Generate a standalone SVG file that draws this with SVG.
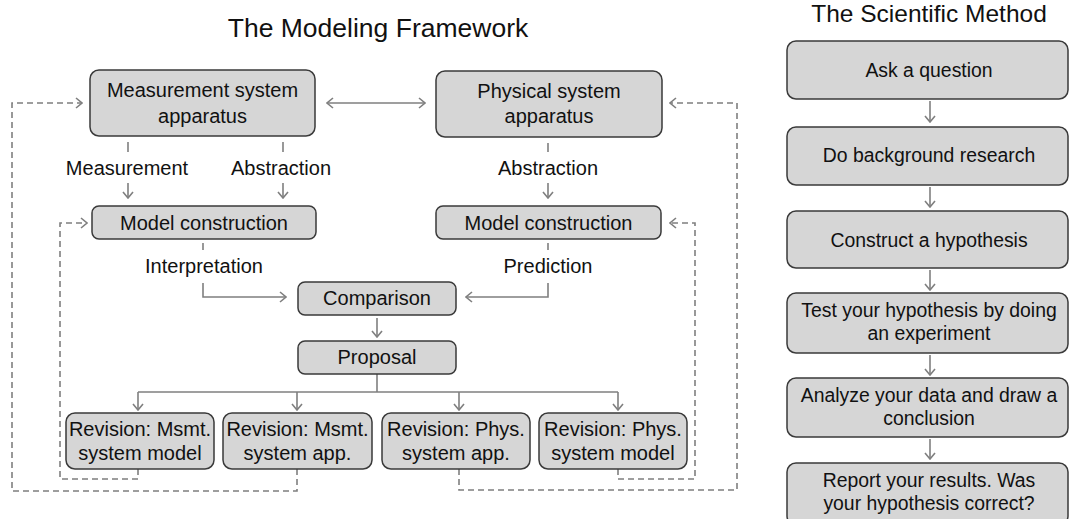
<svg xmlns="http://www.w3.org/2000/svg" width="1070" height="519" viewBox="0 0 1070 519">
<defs>
<style>
.box{fill:#d6d6d6;stroke:#3a3a3a;stroke-width:1.5}
.t{font-family:"Liberation Sans",Arial,sans-serif;font-size:20px;fill:#111;text-anchor:middle}
.s{font-family:"Liberation Sans",Arial,sans-serif;font-size:19.4px;fill:#111;text-anchor:middle}
.title{font-family:"Liberation Sans",Arial,sans-serif;fill:#111;text-anchor:middle}
.c{fill:none;stroke:#7f7f7f;stroke-width:1.6}
.d{fill:none;stroke:#7f7f7f;stroke-width:1.6;stroke-dasharray:6 4}
</style>
<marker id="ah" viewBox="0 0 10 12" refX="9" refY="6" markerWidth="10" markerHeight="12" markerUnits="userSpaceOnUse" orient="auto-start-reverse">
<path d="M3,1 L9,6 L3,11" fill="none" stroke="#7f7f7f" stroke-width="1.6" stroke-dasharray="none"/>
</marker>
</defs>
<rect width="1070" height="519" fill="#ffffff"/>
<text class="title" x="378" y="37" font-size="26.5">The Modeling Framework</text>
<text class="title" x="929" y="22" font-size="24.5">The Scientific Method</text>

<g id="connectors">
<path class="c" d="M327,103 H425" marker-start="url(#ah)" marker-end="url(#ah)"/>
<path class="c" d="M128,142 V152"/>
<path class="c" d="M283,142 V152"/>
<path class="c" d="M548,143 V152"/>
<path class="c" d="M128,183 V198" marker-end="url(#ah)"/>
<path class="c" d="M283,183 V198" marker-end="url(#ah)"/>
<path class="c" d="M548,183 V198" marker-end="url(#ah)"/>
<path class="c" d="M203,243 V250"/>
<path class="c" d="M548,243 V250"/>
<path class="c" d="M203,283 V297 H286" marker-end="url(#ah)"/>
<path class="c" d="M548,283 V297 H466" marker-end="url(#ah)"/>
<path class="c" d="M377,318 V337" marker-end="url(#ah)"/>
<path class="c" d="M377,374 V392"/>
<path class="c" d="M138,392 H618"/>
<path class="c" d="M138,392 V410" marker-end="url(#ah)"/>
<path class="c" d="M297,392 V410" marker-end="url(#ah)"/>
<path class="c" d="M459,392 V410" marker-end="url(#ah)"/>
<path class="c" d="M618,392 V410" marker-end="url(#ah)"/>
<path class="d" d="M138,469 V479 H60 V223 H87" marker-end="url(#ah)"/>
<path class="d" d="M297,469 V491 H12 V103 H82" marker-end="url(#ah)"/>
<path class="d" d="M459,469 V490 H737 V103 H670" marker-end="url(#ah)"/>
<path class="d" d="M618,469 V479 H695 V223 H670" marker-end="url(#ah)"/>
<path class="c" d="M930,101 V122" marker-end="url(#ah)"/>
<path class="c" d="M930,187 V207" marker-end="url(#ah)"/>
<path class="c" d="M930,270 V290" marker-end="url(#ah)"/>
<path class="c" d="M930,355 V375" marker-end="url(#ah)"/>
<path class="c" d="M930,439 V459" marker-end="url(#ah)"/>
</g>

<g id="labels">
<text class="t" x="127" y="175">Measurement</text>
<text class="t" x="281" y="175">Abstraction</text>
<text class="t" x="548" y="175">Abstraction</text>
<text class="t" x="204" y="273">Interpretation</text>
<text class="t" x="548" y="273">Prediction</text>
</g>

<g id="measurement-apparatus"><rect class="box" x="90" y="70" width="225" height="66" rx="9"/><text class="t" x="202.5" y="97">Measurement system</text><text class="t" x="202.5" y="123">apparatus</text></g>
<g id="physical-apparatus"><rect class="box" x="436" y="71" width="226" height="66" rx="9"/><text class="t" x="549" y="98">Physical system</text><text class="t" x="549" y="123">apparatus</text></g>
<g id="model-construction-left"><rect class="box" x="92" y="206" width="224" height="33" rx="7"/><text class="t" x="204" y="230">Model construction</text></g>
<g id="model-construction-right"><rect class="box" x="436" y="206" width="225" height="33" rx="7"/><text class="t" x="548.5" y="230">Model construction</text></g>
<g id="comparison"><rect class="box" x="298" y="282" width="158" height="33" rx="7"/><text class="t" x="377" y="305">Comparison</text></g>
<g id="proposal"><rect class="box" x="298" y="341" width="158" height="33" rx="7"/><text class="t" x="377" y="364">Proposal</text></g>
<g id="rev-msmt-model"><rect class="box" x="66" y="413" width="148" height="56" rx="9"/><text class="t" x="140" y="436">Revision: Msmt.</text><text class="t" x="140" y="460">system model</text></g>
<g id="rev-msmt-app"><rect class="box" x="223" y="413" width="149" height="56" rx="9"/><text class="t" x="297.5" y="436">Revision: Msmt.</text><text class="t" x="297.5" y="460">system app.</text></g>
<g id="rev-phys-app"><rect class="box" x="382" y="413" width="148" height="56" rx="9"/><text class="t" x="456" y="436">Revision: Phys.</text><text class="t" x="456" y="460">system app.</text></g>
<g id="rev-phys-model"><rect class="box" x="539" y="413" width="148" height="56" rx="9"/><text class="t" x="613" y="436">Revision: Phys.</text><text class="t" x="613" y="460">system model</text></g>

<g id="sm-question"><rect class="box" x="787" y="41" width="281" height="58" rx="9"/><text class="s" x="929" y="77">Ask a question</text></g>
<g id="sm-research"><rect class="box" x="787" y="127" width="281" height="58" rx="9"/><text class="s" x="929" y="162">Do background research</text></g>
<g id="sm-hypothesis"><rect class="box" x="787" y="211" width="281" height="57" rx="9"/><text class="s" x="929" y="247">Construct a hypothesis</text></g>
<g id="sm-experiment"><rect class="box" x="787" y="293" width="281" height="60" rx="9"/><text class="s" x="929" y="317">Test your hypothesis by doing</text><text class="s" x="929" y="340">an experiment</text></g>
<g id="sm-analyze"><rect class="box" x="787" y="378" width="281" height="59" rx="9"/><text class="s" x="929" y="402">Analyze your data and draw a</text><text class="s" x="929" y="425">conclusion</text></g>
<g id="sm-report"><rect class="box" x="787" y="463" width="281" height="62" rx="9"/><text class="s" x="929" y="487">Report your results. Was</text><text class="s" x="929" y="510">your hypothesis correct?</text></g>
</svg>
